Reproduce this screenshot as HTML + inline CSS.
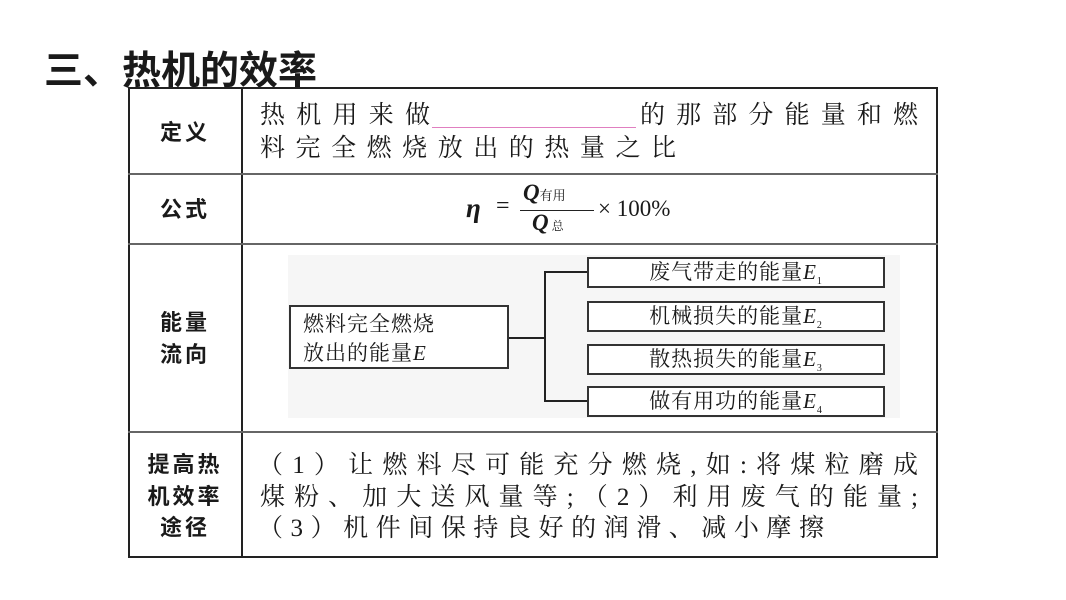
<!DOCTYPE html>
<html><head><meta charset="utf-8"><style>
body{margin:0;width:1066px;height:600px;background:#fff;position:relative;overflow:hidden;font-family:"Liberation Serif","Noto Serif CJK SC",serif;color:#1a1a1a}
.a{position:absolute;white-space:nowrap}
.h{font-family:"Liberation Sans","Noto Sans CJK SC",sans-serif;font-weight:bold}
.lab{font-family:"Liberation Sans","Noto Sans CJK SC",sans-serif;font-weight:bold;font-size:22px;text-align:center;width:114px;left:128px;letter-spacing:3px;line-height:1}
.ln{position:absolute;background:#222}
.j{position:absolute;font-size:25px;text-align:justify;text-align-last:justify;white-space:nowrap;line-height:1}
.box{position:absolute;border:2px solid #333;background:#fff;box-sizing:border-box;font-size:21px;text-align:center;letter-spacing:1px}
</style></head><body>
<div class="a h" style="left:44px;top:40px;font-size:39px;">三、热机的效率</div>
<div style="position:absolute;left:128px;top:87px;width:806px;height:467px;border:2px solid #222;"></div>
<div class="ln" style="left:241px;top:87px;width:1.5px;height:471px"></div>
<div class="ln" style="left:128px;top:173px;width:810px;height:1.5px;background:#666"></div>
<div class="ln" style="left:128px;top:243px;width:810px;height:1.5px;background:#666"></div>
<div class="ln" style="left:128px;top:431px;width:810px;height:1.5px;background:#666"></div>

<div class="a lab" style="top:122px">定义</div>
<div class="a lab" style="top:199px">公式</div>
<div class="a lab" style="top:312px">能量</div>
<div class="a lab" style="top:344px">流向</div>
<div class="a lab" style="top:454px">提高热</div>
<div class="a lab" style="top:486px">机效率</div>
<div class="a lab" style="top:517px">途径</div>

<div class="j" style="left:260px;top:103px;width:170px;">热机用来做</div>
<div class="ln" style="left:432px;top:127px;width:204px;height:1px;background:#e07fc0"></div>
<div class="j" style="left:640px;top:103px;width:278px;">的那部分能量和燃</div>
<div class="j" style="left:260px;top:136px;width:416px;">料完全燃烧放出的热量之比</div>

<div class="a" style="left:466px;top:193px;font-size:27px;font-style:italic;font-weight:bold">η</div>
<div class="a" style="left:496px;top:193px;font-size:24px">=</div>
<div class="a" style="left:523px;top:180px;font-size:23px;font-style:italic;font-weight:bold">Q<span style="font-size:13px;font-style:normal;font-weight:normal">有用</span></div>
<div class="ln" style="left:520px;top:210px;width:74px;height:1px"></div>
<div class="a" style="left:532px;top:210px;font-size:23px;font-style:italic;font-weight:bold">Q<span style="font-size:12px;font-style:normal;font-weight:normal"> 总</span></div>
<div class="a" style="left:598px;top:196px;font-size:23px">× 100%</div>

<div style="position:absolute;left:288px;top:255px;width:612px;height:163px;background:#f6f6f6"></div>
<div class="box" style="left:289px;top:305px;width:220px;height:64px;text-align:left;padding:3px 0 0 12px;line-height:29px">燃料完全燃烧<br>放出的能量<i>E</i></div>
<div class="ln" style="left:509px;top:337px;width:36px;height:2px"></div>
<div class="ln" style="left:544px;top:271px;width:2px;height:131px"></div>
<div class="ln" style="left:544px;top:271px;width:43px;height:2px"></div>
<div class="ln" style="left:544px;top:400px;width:43px;height:2px"></div>
<div class="box" style="left:587px;top:257px;width:298px;height:31px;line-height:27px">废气带走的能量<i>E</i><sub style="font-size:10px">1</sub></div>
<div class="box" style="left:587px;top:301px;width:298px;height:31px;line-height:27px">机械损失的能量<i>E</i><sub style="font-size:10px">2</sub></div>
<div class="box" style="left:587px;top:344px;width:298px;height:31px;line-height:27px">散热损失的能量<i>E</i><sub style="font-size:10px">3</sub></div>
<div class="box" style="left:587px;top:386px;width:298px;height:31px;line-height:27px">做有用功的能量<i>E</i><sub style="font-size:10px">4</sub></div>

<div class="j" style="left:258px;top:453px;width:660px;">（1）让燃料尽可能充分燃烧,如:将煤粒磨成</div>
<div class="j" style="left:260px;top:485px;width:658px;">煤粉、加大送风量等;（2）利用废气的能量;</div>
<div class="j" style="left:258px;top:516px;width:566px;">（3）机件间保持良好的润滑、减小摩擦</div>
</body></html>
